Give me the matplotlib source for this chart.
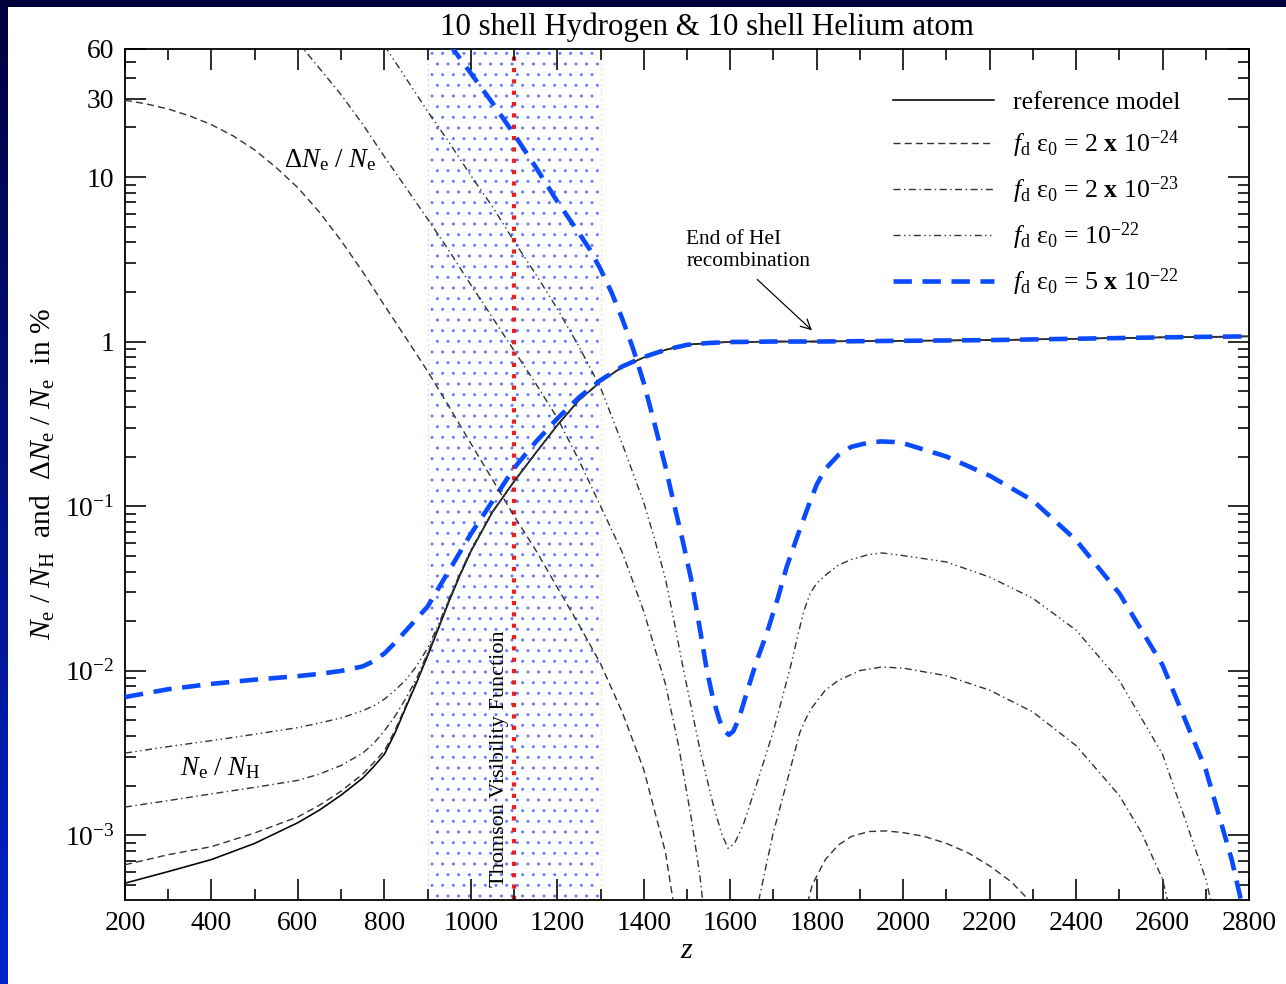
import numpy as np
import matplotlib
matplotlib.use("Agg")
import matplotlib.pyplot as plt
from matplotlib.patches import Rectangle
from matplotlib.ticker import FixedLocator, LogLocator, MultipleLocator

plt.rcParams["font.family"] = ["Liberation Serif", "DejaVu Serif"]
plt.rcParams["mathtext.fontset"] = "custom"
plt.rcParams["mathtext.rm"] = "Liberation Serif"
plt.rcParams["mathtext.it"] = "Liberation Serif:italic"
plt.rcParams["mathtext.bf"] = "Liberation Serif:bold"
plt.rcParams["hatch.linewidth"] = 0.45

# ---------------- data ----------------
# free electron fraction N_e/N_H (in %) on a common redshift grid
z_ion = [200, 300, 400, 500, 600, 650, 700, 750, 775, 800, 825, 850, 875, 900, 925,
         950, 975, 1000, 1050, 1100, 1150, 1200, 1250, 1300, 1350, 1400, 1450, 1500,
         1550, 1600, 1700, 1800, 2000, 2200, 2400, 2600, 2800]
ion_ref = [5.1e-4, 6.0e-4, 7.1e-4, 8.9e-4, 1.19e-3, 1.42e-3, 1.75e-3, 2.22e-3, 2.6e-3,
           3.1e-3, 4.2e-3, 6.0e-3, 8.5e-3, 0.0123, 0.0180, 0.0265, 0.038, 0.053, 0.092,
           0.141, 0.21, 0.31, 0.44, 0.57, 0.70, 0.80, 0.89, 0.955, 0.98, 0.993, 1.0, 1.0,
           1.01, 1.02, 1.04, 1.06, 1.075]
ion_2e24 = [6.6e-4, 7.6e-4, 8.5e-4, 1.03e-3, 1.29e-3, 1.52e-3, 1.85e-3, 2.35e-3, 2.75e-3,
            3.25e-3, 4.35e-3, 6.15e-3, 8.7e-3, 0.0125, 0.0182, 0.0267, 0.0382, 0.0532,
            0.092, 0.141, 0.21, 0.31, 0.44, 0.57, 0.70, 0.80, 0.89, 0.955, 0.98, 0.993,
            1.0, 1.0, 1.01, 1.02, 1.04, 1.06, 1.075]
ion_2e23 = [1.48e-3, 1.62e-3, 1.78e-3, 1.95e-3, 2.15e-3, 2.35e-3, 2.65e-3, 3.15e-3, 3.6e-3,
            4.3e-3, 5.3e-3, 6.8e-3, 9.0e-3, 0.0128, 0.0185, 0.0270, 0.0385, 0.0535,
            0.092, 0.141, 0.21, 0.31, 0.44, 0.57, 0.70, 0.80, 0.89, 0.955, 0.98, 0.993,
            1.0, 1.0, 1.01, 1.02, 1.04, 1.06, 1.075]
ion_1e22 = [3.15e-3, 3.45e-3, 3.75e-3, 4.1e-3, 4.5e-3, 4.8e-3, 5.15e-3, 5.7e-3, 6.1e-3,
            6.7e-3, 7.6e-3, 8.8e-3, 0.0107, 0.0137, 0.0190, 0.0275, 0.039, 0.054,
            0.0925, 0.1415, 0.21, 0.31, 0.44, 0.57, 0.70, 0.80, 0.89, 0.955, 0.98, 0.993,
            1.0, 1.0, 1.01, 1.02, 1.04, 1.06, 1.075]
ion_5e22 = [6.9e-3, 7.7e-3, 8.3e-3, 8.8e-3, 9.25e-3, 9.55e-3, 9.95e-3, 0.0106, 0.0114,
            0.0127, 0.0148, 0.0175, 0.0207, 0.0245, 0.0316, 0.0407, 0.0525, 0.0676,
            0.107, 0.170, 0.245, 0.34, 0.457, 0.582, 0.705, 0.805, 0.89, 0.955, 0.98,
            0.993, 1.0, 1.0, 1.01, 1.02, 1.04, 1.06, 1.075]

# relative change |Delta N_e / N_e| (in %)
z_d_2e24 = [200, 250, 300, 350, 400, 450, 500, 550, 600, 650, 700, 750, 800, 850, 900,
            950, 1000, 1050, 1100, 1150, 1200, 1250, 1300, 1350, 1400, 1450, 1480,
            1760, 1790, 1820, 1850, 1880, 1920, 1960, 2000, 2050, 2100, 2150, 2200,
            2250, 2300, 2330]
d_2e24 = [29.3, 27.8, 25.9, 23.5, 20.8, 17.8, 14.6, 11.4, 8.6, 6.1, 4.1, 2.65, 1.66,
          1.05, 0.66, 0.40, 0.24, 0.145, 0.087, 0.054, 0.032, 0.019, 0.011, 5.6e-3,
          2.5e-3, 7.9e-4, 2.5e-4,
          2.5e-4, 5.0e-4, 7.1e-4, 8.7e-4, 9.8e-4, 1.05e-3, 1.06e-3, 1.035e-3, 9.8e-4,
          8.9e-4, 7.8e-4, 6.5e-4, 5.2e-4, 3.8e-4, 2.5e-4]

z_d_2e23 = [600, 650, 700, 750, 800, 850, 900, 950, 1000, 1050, 1100, 1150, 1200, 1250,
            1300, 1350, 1400, 1450, 1480, 1510, 1530, 1545,
            1650, 1670, 1699, 1731, 1761, 1775, 1790, 1820, 1850, 1900, 1950, 2000, 2100,
            2200, 2300, 2400, 2500, 2550, 2600, 2630]
d_2e23 = [66, 45.7, 31.6, 20.9, 13.3, 8.6, 5.56, 3.55, 2.21, 1.40, 0.88, 0.556, 0.343,
          0.19, 0.10, 0.0525, 0.0229, 8.3e-3, 3.55e-3, 1.26e-3, 5.6e-4, 2.5e-4,
          2.5e-4, 4.5e-4, 1.02e-3, 2.1e-3, 4.2e-3, 5.1e-3, 6.0e-3, 7.6e-3, 8.7e-3,
          0.0100, 0.0105, 0.01035, 9.3e-3, 7.6e-3, 5.6e-3, 3.5e-3, 1.74e-3, 1.05e-3,
          5.4e-4, 2.5e-4]

z_d_1e22 = [800, 850, 900, 950, 1000, 1050, 1100, 1150, 1200, 1250, 1300, 1350, 1400,
            1425, 1450, 1470, 1490, 1530, 1560, 1580, 1595, 1610, 1630, 1660, 1700, 1740,
            1755, 1770, 1785, 1800, 1825, 1850, 1880, 1920, 1950, 2000, 2100, 2200, 2300,
            2400, 2500, 2600, 2700, 2730]
d_1e22 = [63, 39.8, 25.1, 16.2, 10.2, 6.6, 4.07, 2.57, 1.58, 0.933, 0.525, 0.24, 0.105,
          0.063, 0.0363, 0.020, 0.0107, 3.3e-3, 1.55e-3, 1.02e-3, 8.3e-4, 8.9e-4,
          1.15e-3, 2.0e-3, 4.3e-3, 0.0107, 0.0158, 0.0229, 0.0295, 0.0339, 0.0389,
          0.0437, 0.0473, 0.0507, 0.0519, 0.050, 0.0457, 0.037, 0.0275, 0.0176, 8.7e-3,
          3.1e-3, 5.4e-4, 2.5e-4]

z_d_5e22 = [950, 1000, 1050, 1100, 1150, 1200, 1250, 1275, 1300, 1325, 1350, 1375, 1400,
            1425, 1450, 1465, 1491, 1510, 1530, 1546, 1560, 1575, 1587, 1597, 1607, 1620,
            1640, 1660, 1685, 1710, 1731, 1760, 1785, 1800, 1820, 1850, 1880, 1920, 1950,
            1980, 2000, 2100, 2200, 2300, 2400, 2500, 2600, 2700, 2760, 2790]
d_5e22 = [64.6, 42.7, 28.2, 18.2, 11.5, 7.1, 4.57, 3.63, 2.75, 2.0, 1.38, 0.91, 0.56,
          0.316, 0.174, 0.117, 0.060, 0.0355, 0.0178, 0.010, 6.8e-3, 5.0e-3, 4.27e-3,
          4.07e-3, 4.27e-3, 5.1e-3, 7.6e-3, 0.0112, 0.017, 0.0275, 0.043, 0.071, 0.107,
          0.135, 0.168, 0.204, 0.229, 0.243, 0.247, 0.245, 0.241, 0.20, 0.153, 0.108,
          0.062, 0.0295, 0.0108, 2.5e-3, 7.1e-4, 3.2e-4]

legend_labels = [
    "reference model",
    r"$f_{\rm d}$ ε$_0$ = 2 $\mathbf{x}$ 10$^{-24}$",
    r"$f_{\rm d}$ ε$_0$ = 2 $\mathbf{x}$ 10$^{-23}$",
    r"$f_{\rm d}$ ε$_0$ = 10$^{-22}$",
    r"$f_{\rm d}$ ε$_0$ = 5 $\mathbf{x}$ 10$^{-22}$",
]
ytick_vals = [1e-3, 1e-2, 1e-1, 1, 10, 30, 60]
ytick_text = [r"$10^{-3}$", r"$10^{-2}$", r"$10^{-1}$", "1", "10", "30", "60"]

# ---------------- figure ----------------
W, H, DPI = 1286, 984, 128.6
PX = 72.0 / DPI  # points per pixel
fig = plt.figure(figsize=(W / DPI, H / DPI), dpi=DPI)
fig.patch.set_facecolor("white")

# slide frame: navy strip on top, blue gradient strip on the left
fig.add_artist(Rectangle((0, 1 - 7 / H), 1, 7 / H, transform=fig.transFigure,
                         facecolor="#00003c", edgecolor="none", zorder=0))
strip = fig.add_axes([0, 0, 8 / W, 1])
grad = np.linspace(0, 1, 256)[:, None, None]
top_c = np.array([0.0, 0.0, 0.24])
bot_c = np.array([0.0, 0.14, 0.80])
strip.imshow(top_c + grad * (bot_c - top_c), aspect="auto", extent=(0, 1, 0, 1),
             origin="upper")
strip.set_axis_off()

ax = fig.add_axes([125 / W, (H - 900) / H, (1249 - 125) / W, (900 - 49) / H])
ax.set_yscale("log")
ax.set_xlim(200, 2800)
ax.set_ylim(4.03e-4, 60)

# Thomson visibility band and its centre
ax.axvspan(900, 1300, facecolor="none", edgecolor="#5a78ff", hatch="..",
           linewidth=0, zorder=0)
for zb in (900, 1300):
    ax.axvline(zb, color="#ff9a9a", lw=1.0 * PX, ls=(0, (1, 4)), zorder=0.5)
ax.axvline(1100, color="#e82020", lw=4.2 * PX, ls=(0, (1, 1.7)), zorder=1)
ax.text(1066, 2.9e-3, "Thomson Visibility Function", rotation=90, ha="center",
        va="center", fontsize=12.5, zorder=2)

lw_thin = 1.4 * PX
grey = "#333333"
styles = [
    dict(color="black", lw=1.6 * PX, ls="-"),
    dict(color=grey, lw=lw_thin, ls=(0, (5, 3))),
    dict(color=grey, lw=lw_thin, ls=(0, (5, 2.5, 1, 2.5))),
    dict(color=grey, lw=lw_thin, ls=(0, (5, 2.5, 1, 2.5, 1, 2.5))),
    dict(color="#0a4bff", lw=4.6 * PX, ls=(0, (4.0, 2.3))),
]
ion_series = [ion_ref, ion_2e24, ion_2e23, ion_1e22, ion_5e22]
handles = []
for vals, st, lab in zip(ion_series, styles, legend_labels):
    h, = ax.plot(z_ion, vals, label=lab, zorder=3, **st)
    handles.append(h)

for zz, vals, st in zip([z_d_2e24, z_d_2e23, z_d_1e22, z_d_5e22],
                        [d_2e24, d_2e23, d_1e22, d_5e22], styles[1:]):
    ax.plot(zz, vals, zorder=3, **st)

# axes styling
for sp in ax.spines.values():
    sp.set_linewidth(1.8 * PX)
ax.xaxis.set_major_locator(MultipleLocator(200))
ax.xaxis.set_minor_locator(MultipleLocator(100))
ax.yaxis.set_major_locator(FixedLocator(ytick_vals))
ax.yaxis.set_minor_locator(LogLocator(base=10, subs=np.arange(2, 10)))
ax.set_yticklabels(ytick_text)
ax.tick_params(which="both", direction="in", top=True, right=True,
               width=1.6 * PX, labelsize=15.5, color="black")
ax.tick_params(which="major", length=21 * PX, pad=6)
ax.tick_params(which="minor", length=11 * PX)

ax.set_xlabel("$z$", fontsize=17, labelpad=1)
ax.set_ylabel(r"$N_{\rm e}$ / $N_{\rm H}$  and  Δ$N_{\rm e}$ / $N_{\rm e}$  in %",
              fontsize=16.5, labelpad=4)
fig.text(707 / W, 1 - 27 / H, "10 shell Hydrogen & 10 shell Helium atom",
         ha="center", va="center", fontsize=17.3)

ax.text(674, 12.6, r"Δ$N_{\rm e}$ / $N_{\rm e}$", ha="center", va="center",
        fontsize=15)
ax.text(420, 2.55e-3, r"$N_{\rm e}$ / $N_{\rm H}$", ha="center", va="center",
        fontsize=15)
ax.annotate("End of HeI\nrecombination", xy=(1789, 1.17), xytext=(1498, 4.75),
            ha="left", va="top", fontsize=12, linespacing=1.2,
            arrowprops=dict(arrowstyle="->", lw=1.2 * PX, color="black",
                            relpos=(0.5, 0.0), shrinkA=4, shrinkB=0,
                            mutation_scale=14))

leg = ax.legend(handles=handles, loc="upper left",
                bbox_to_anchor=(893 / W, 1 - 91 / H), bbox_transform=fig.transFigure,
                frameon=False, fontsize=14.5, handlelength=3.9, handletextpad=0.72,
                labelspacing=0.56, borderpad=0, borderaxespad=0)

fig.savefig("out.png", dpi=DPI, facecolor=fig.get_facecolor())
